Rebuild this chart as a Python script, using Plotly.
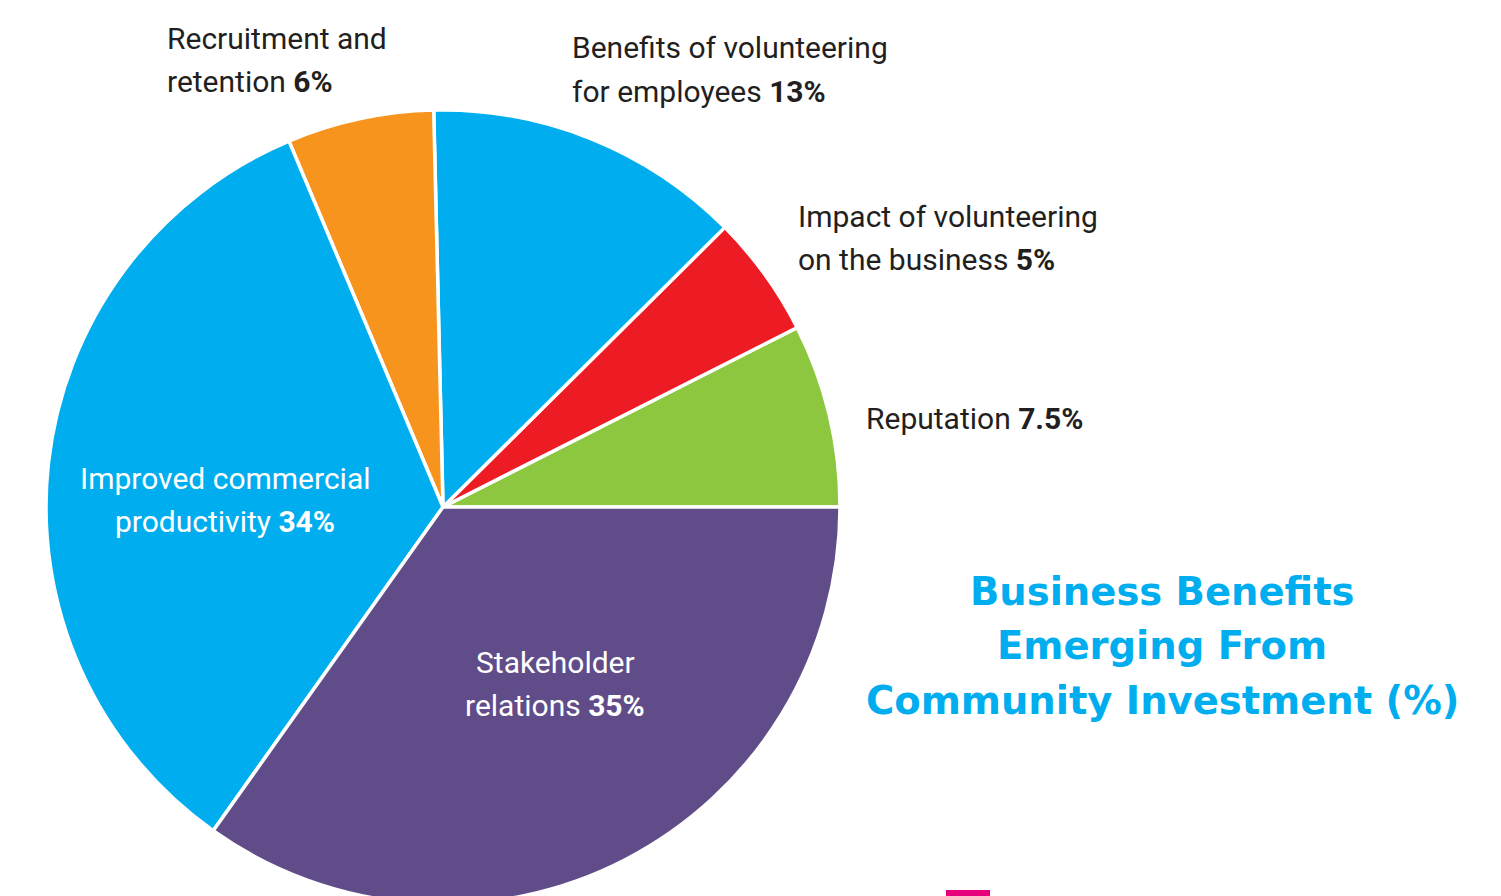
import plotly.graph_objects as go

# Data (counter-clockwise from 3 o'clock)
categories = [
    "Reputation",
    "Impact of volunteering on the business",
    "Benefits of volunteering for employees",
    "Recruitment and retention",
    "Improved commercial productivity",
    "Stakeholder relations",
]
label_lines = [
    ["Reputation"],
    ["Impact of volunteering", "on the business"],
    ["Benefits of volunteering", "for employees"],
    ["Recruitment and", "retention"],
    ["Improved commercial", "productivity"],
    ["Stakeholder", "relations"],
]
values = [7.5, 5, 13, 6, 34, 35]
colors = ["#8DC63F", "#ED1C24", "#00AEEF", "#F7941D", "#00AEEF", "#604C88"]
title_lines = ["Business Benefits", "Emerging From", "Community Investment (%)"]

W, H = 1501, 896
OFF = 8  # page body margin offset
FONT = "Roboto, Liberation Sans, sans-serif"

fig = go.Figure()
cx, cy_top, r = 443 - OFF, 507 - OFF, 397
total = sum(values)
first_angle = values[0] / total * 360
fig.add_trace(go.Pie(
    labels=categories,
    values=values,
    sort=False,
    direction="counterclockwise",
    rotation=90 - first_angle,
    marker=dict(colors=colors, line=dict(color="white", width=3.5)),
    textinfo="none",
    hoverinfo="label+value",
    domain=dict(x=[(cx - r) / W, (cx + r) / W],
                y=[max(0, (H - cy_top - r) / H), min(1, (H - cy_top + r) / H)]),
))

def fmt(v):
    return f"{v:g}%"

# label placement: (x px, y px of first line centre, anchor, colour) in screen px
placements = [
    (864, 418, "left", "#231F20"),
    (796, 216, "left", "#231F20"),
    (570, 48, "left", "#231F20"),
    (165, 38, "left", "#231F20"),
    (225, 478, "center", "white"),
    (555, 662, "center", "white"),
]
line_gap = 43
annotations = []
for lines, v, (px, py, anc, col) in zip(label_lines, values, placements):
    for i, ln in enumerate(lines):
        txt = ln
        if i == len(lines) - 1:
            txt = f"{ln} <b>{fmt(v)}</b>"
        annotations.append(dict(
            x=(px - OFF) / W, y=1 - (py - OFF + i * line_gap) / H,
            xref="paper", yref="paper",
            text=txt, showarrow=False, xanchor=anc, yanchor="middle",
            font=dict(family=FONT, size=30, color=col),
        ))

for i, ln in enumerate(title_lines):
    annotations.append(dict(
        x=(1162 - OFF) / W, y=1 - (591 - OFF + i * 54.5) / H,
        xref="paper", yref="paper",
        text=f"<b>{ln}</b>", showarrow=False, xanchor="center", yanchor="middle",
        font=dict(family="DejaVu Sans, sans-serif", size=38.5, color="#00AEEF"),
    ))

fig.update_layout(
    width=W, height=H,
    margin=dict(l=0, r=0, t=0, b=0),
    paper_bgcolor="white", plot_bgcolor="white",
    showlegend=False,
    annotations=annotations,
    shapes=[dict(type="rect", xref="paper", yref="paper",
                 x0=(946 - OFF) / W, x1=(990 - OFF) / W,
                 y0=OFF / H, y1=(OFF + 6) / H,
                 fillcolor="#E6007E", line=dict(width=0))],
)

fig.write_html("out.html")
